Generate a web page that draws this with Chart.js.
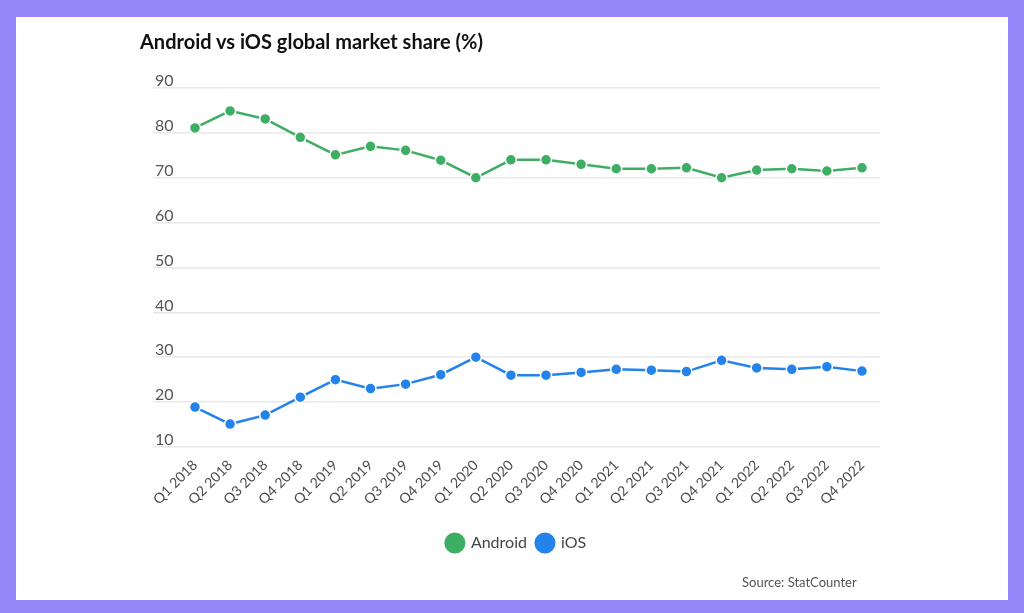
<!DOCTYPE html>
<html lang="en">
<head>
  <meta charset="UTF-8" />
  <title>Android vs iOS global market share</title>
  <script src="https://cdn.jsdelivr.net/npm/chart.js"></script>
  <style>
    body {
      margin: 0;
      width: 1024px;
      height: 613px;
      background-color: #9586fa;
      font-family: Lato, 'Open Sans', sans-serif;
      overflow: hidden;
    }

    .card {
      position: absolute;
      left: 16px;
      top: 17px;
      width: 992px;
      height: 583px;
      background-color: #ffffff;
    }

    .card h2 {
      position: absolute;
      left: 124px;
      top: 12px;
      margin: 0;
      font-size: 20px;
      font-weight: bold;
      color: #111;
    }

    .source {
      position: absolute;
      left: 726px;
      top: 557px;
      font-size: 13px;
      color: #555;
    }

    canvas {
      position: absolute;
      left: 0;
      top: 0;
    }
  </style>
</head>
<body>

  <div class="card">
    <canvas id="chart" width="992" height="583"></canvas>
    <h2>Android vs iOS global market share (%)</h2>
    <div class="source">Source: StatCounter</div>
  </div>

  <script>
    const quarters = ["Q1 2018", "Q2 2018", "Q3 2018", "Q4 2018", "Q1 2019", "Q2 2019", "Q3 2019", "Q4 2019",
      "Q1 2020", "Q2 2020", "Q3 2020", "Q4 2020", "Q1 2021", "Q2 2021", "Q3 2021", "Q4 2021",
      "Q1 2022", "Q2 2022", "Q3 2022", "Q4 2022"];
    const android = [81.1, 84.9, 83.1, 79.0, 75.1, 77.0, 76.1, 73.9, 70.0, 74.0,
      74.0, 73.0, 72.0, 72.0, 72.2, 70.0, 71.7, 72.0, 71.5, 72.2];
    const ios = [18.9, 15.1, 17.1, 21.1, 25.0, 23.0, 24.0, 26.1, 30.0, 26.0,
      26.0, 26.6, 27.3, 27.1, 26.8, 29.3, 27.6, 27.3, 27.9, 26.9];
    const yTicks = [10, 20, 30, 40, 50, 60, 70, 80, 90];

    // points as {x: index, y: value} so the x axis can start before the first quarter
    const toPoints = arr => arr.map((v, i) => ({ x: i, y: v }));

    const ctx = document.getElementById('chart').getContext('2d');
    new Chart(ctx, {
      type: 'line',
      data: {
        datasets: [
          {
            label: 'Android',
            data: toPoints(android),
            borderColor: '#3dae63',
            backgroundColor: '#3dae63',
            pointBackgroundColor: '#3dae63',
            pointBorderColor: '#ffffff',
            pointBorderWidth: 1.5,
            pointRadius: 5.5,
            borderWidth: 2.5,
            tension: 0
          },
          {
            label: 'iOS',
            data: toPoints(ios),
            borderColor: '#2383ea',
            backgroundColor: '#2383ea',
            pointBackgroundColor: '#2383ea',
            pointBorderColor: '#ffffff',
            pointBorderWidth: 1.5,
            pointRadius: 5.5,
            borderWidth: 2.5,
            tension: 0
          }
        ]
      },
      options: {
        responsive: false,
        animation: false,
        layout: {
          padding: { left: 137, right: 128, top: 71, bottom: 39 }
        },
        plugins: {
          tooltip: { enabled: false },
          legend: {
            position: 'bottom',
            labels: {
              usePointStyle: true,
              pointStyle: 'circle',
              boxWidth: 17,
              boxHeight: 17,
              padding: 10,
              color: '#444',
              font: { family: 'Lato', size: 16 }
            }
          }
        },
        scales: {
          x: {
            type: 'linear',
            min: -1.196,
            max: 19.513,
            grid: { display: false },
            border: { display: false },
            afterBuildTicks: scale => {
              scale.ticks = quarters.map((_, i) => ({ value: i }));
            },
            afterFit: scale => {
              scale.height += 15;
            },
            ticks: {
              minRotation: 45,
              maxRotation: 45,
              autoSkip: false,
              padding: 2,
              color: '#4d4d4d',
              font: { family: 'Lato', size: 14 },
              callback: v => quarters[v]
            }
          },
          y: {
            min: 10,
            max: 90,
            afterBuildTicks: scale => {
              scale.ticks = yTicks.map(v => ({ value: v }));
            },
            afterFit: scale => {
              scale.width = 0;
            },
            grid: { color: '#e8e8e8', lineWidth: 1.5, drawTicks: false },
            border: { display: false },
            ticks: {
              mirror: true,
              padding: 2,
              labelOffset: -7,
              color: '#555',
              font: { family: 'Lato', size: 16 }
            }
          }
        }
      }
    });
  </script>

</body>
</html>
